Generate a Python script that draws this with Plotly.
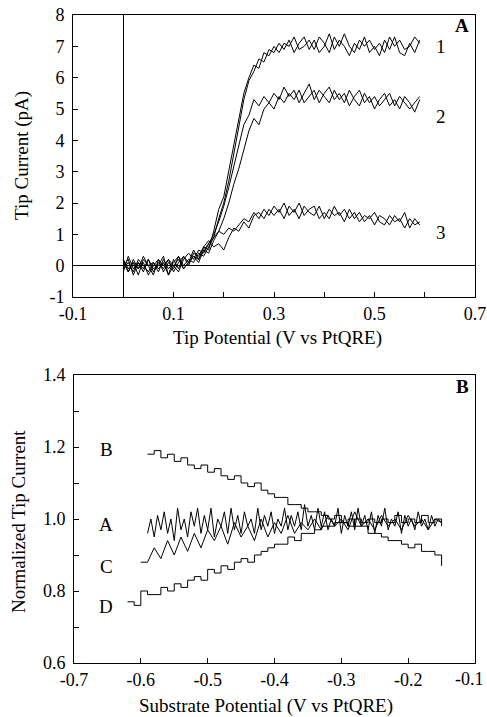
import numpy as np
import plotly.graph_objects as go

# ---------------- Panel A data ----------------
tip_potential = [round(0.01 * i, 2) for i in range(60)]  # 0.00 .. 0.59 V sampling grid

curve1_fwd = [0.1, -0.2, 0.2, -0.1, 0.1, -0.3, 0.0, 0.2, -0.2, 0.1,
              -0.1, 0.3, 0.0, 0.2, 0.1, 0.4, 0.3, 0.6, 0.9, 1.5,
              2.0, 2.7, 3.6, 4.4, 5.3, 5.9, 6.2, 6.6, 6.5, 6.9,
              6.8, 7.1, 6.9, 7.2, 6.8, 7.1, 7.3, 6.9, 7.2, 6.8,
              7.0, 7.4, 6.9, 7.2, 7.0, 6.7, 7.1, 6.9, 7.3, 6.8,
              7.0, 6.7, 7.2, 6.9, 7.3, 6.8, 6.7, 7.1, 6.8, 7.2]
curve1_rev = [-0.2, 0.3, -0.1, 0.1, -0.2, 0.2, -0.1, 0.0, 0.3, -0.3,
              0.2, -0.1, 0.3, 0.1, 0.5, 0.2, 0.6, 0.5, 1.1, 1.8,
              2.2, 3.0, 3.9, 4.7, 5.5, 6.0, 6.4, 6.3, 6.8, 6.7,
              7.0, 6.8, 7.1, 7.0, 7.3, 6.9, 7.0, 7.2, 6.9, 7.3,
              7.1, 6.8, 7.3, 7.0, 7.4, 7.0, 6.8, 7.2, 7.0, 7.2,
              6.9, 7.1, 6.8, 7.3, 7.0, 7.2, 6.9, 7.0, 7.3, 7.1]
curve2_fwd = [0.0, 0.2, -0.3, 0.1, -0.1, 0.2, -0.2, 0.1, -0.1, 0.2,
              0.0, -0.2, 0.2, 0.4, 0.2, 0.5, 0.4, 0.7, 1.0, 1.4,
              1.9, 2.5, 3.2, 3.8, 4.5, 4.8, 5.3, 5.1, 5.4, 5.2,
              5.5, 5.3, 5.7, 5.4, 5.6, 5.2, 5.5, 5.8, 5.3, 5.6,
              5.4, 5.2, 5.6, 5.3, 5.5, 5.1, 5.4, 5.6, 5.2, 5.4,
              5.0, 5.3, 5.5, 5.1, 5.3, 5.0, 5.4, 5.2, 4.9, 5.3]
curve2_rev = [0.2, -0.1, 0.1, -0.3, 0.2, 0.0, 0.1, -0.2, 0.2, -0.1,
              0.1, 0.3, -0.1, 0.1, 0.3, 0.1, 0.5, 0.4, 0.8, 1.1,
              1.5, 2.0, 2.6, 3.1, 3.7, 4.3, 4.7, 4.5, 5.0, 5.2,
              5.0, 5.4, 5.2, 5.5, 5.3, 5.6, 5.2, 5.4, 5.6, 5.2,
              5.5, 5.7, 5.3, 5.5, 5.2, 5.6, 5.3, 5.1, 5.5, 5.2,
              5.4, 5.1, 5.3, 5.5, 5.1, 5.4, 5.2, 5.0, 5.2, 5.4]
curve3_fwd = [-0.1, 0.1, -0.2, 0.2, 0.0, -0.2, 0.1, -0.1, 0.1, -0.3,
              0.0, 0.2, -0.1, 0.1, 0.3, 0.2, 0.5, 0.7, 0.9, 1.1,
              1.0, 1.2, 1.1, 1.3, 1.5, 1.4, 1.7, 1.5, 1.8, 1.6,
              1.9, 1.7, 2.0, 1.6, 1.8, 1.5, 1.9, 1.7, 1.6, 1.9,
              1.5, 1.8, 1.6, 1.7, 1.4, 1.8, 1.5, 1.7, 1.4, 1.6,
              1.3, 1.6, 1.5, 1.3, 1.6, 1.4, 1.7, 1.2, 1.5, 1.3]
curve3_rev = [0.2, -0.2, 0.1, -0.1, 0.3, 0.0, -0.3, 0.2, 0.0, 0.2,
              -0.2, 0.1, 0.3, 0.0, 0.4, 0.3, 0.6, 0.8, 0.6, 0.7,
              0.5, 0.9, 1.2, 1.1, 1.4, 1.2, 1.6, 1.7, 1.5, 1.8,
              1.6, 1.8, 1.5, 1.9, 1.7, 2.0, 1.6, 1.8, 1.9, 1.5,
              1.7, 1.5, 1.9, 1.6, 1.8, 1.5, 1.7, 1.4, 1.6, 1.5,
              1.7, 1.4, 1.3, 1.6, 1.4, 1.5, 1.2, 1.5, 1.3, 1.4]

curve_labels_A = ["1", "2", "3"]
curve_label_pos_A = [7.0, 4.75, 1.07]

# ---------------- Panel B data ----------------
B_start, B_step = -0.59, 0.01
norm_B = [1.18, 1.19, 1.17, 1.18, 1.16, 1.17, 1.15, 1.14, 1.15, 1.13,
          1.14, 1.12, 1.11, 1.12, 1.10, 1.09, 1.10, 1.08, 1.07, 1.06,
          1.06, 1.04, 1.04, 1.03, 1.02, 1.02, 1.01, 1.00, 1.01, 0.99,
          1.00, 0.98, 0.98, 0.96, 0.96, 0.95, 0.94, 0.94, 0.93, 0.92,
          0.93, 0.91, 0.91, 0.90, 0.87]
A_start, A_step = -0.59, 0.005
norm_A = [0.96, 1.00, 0.95, 1.01, 0.97, 1.02, 0.96, 1.00, 0.94, 1.03,
          0.97, 1.00, 0.95, 1.02, 0.98, 1.03, 0.96, 1.01, 0.97, 1.03,
          0.95, 1.00, 0.98, 1.02, 0.96, 1.03, 0.97, 1.01, 0.96, 1.02,
          0.98, 1.00, 0.96, 1.03, 0.97, 1.01, 0.98, 1.02, 0.96, 1.00,
          0.98, 1.03, 0.97, 1.01, 0.98, 1.02, 0.97, 1.04, 0.98, 1.01,
          0.97, 1.03, 0.98, 1.02, 0.97, 1.00, 0.98, 1.03, 0.96, 1.01,
          0.98, 1.02, 0.97, 1.03, 0.98, 1.01, 0.97, 1.02, 0.96, 1.01,
          0.98, 1.03, 0.97, 1.00, 0.98, 1.02, 0.96, 1.01, 0.98, 1.00,
          0.97, 1.02, 0.98, 1.00, 0.97, 1.01, 0.98, 1.00, 0.99]
C_start, C_step = -0.60, 0.01
norm_C = [0.88, 0.88, 0.92, 0.89, 0.94, 0.90, 0.95, 0.91, 0.96, 0.92,
          0.97, 0.94, 0.98, 0.93, 0.99, 0.95, 0.98, 0.94, 1.00, 0.95,
          0.99, 0.96, 1.01, 0.96, 0.99, 0.97, 1.00, 0.97, 1.01, 0.98,
          1.00, 0.97, 1.02, 0.98, 1.00, 0.97, 1.01, 0.98, 1.00, 0.97,
          1.01, 0.98, 1.00, 0.97, 1.00, 0.99]
D_start, D_step = -0.62, 0.01
norm_D = [0.77, 0.76, 0.80, 0.79, 0.79, 0.81, 0.80, 0.82, 0.81, 0.83,
          0.84, 0.83, 0.86, 0.85, 0.87, 0.86, 0.88, 0.89, 0.88, 0.90,
          0.91, 0.92, 0.93, 0.93, 0.95, 0.94, 0.96, 0.96, 0.97, 0.98,
          0.98, 0.99, 0.99, 0.98, 1.00, 0.99, 1.00, 0.99, 1.00, 0.99,
          1.01, 0.99, 1.00, 0.99, 1.01, 0.99, 1.00, 0.98]

curve_labels_B = ["B", "A", "C", "D"]
curve_label_pos_B = [1.194, 0.986, 0.867, 0.756]


def grid(start, step, n):
    return [round(start + step * i, 4) for i in range(n)]


FONT = "Liberation Serif, Times New Roman, serif"
W, H = 487, 717

fig = go.Figure()
line = dict(color="black", width=1)

for ys in [curve1_fwd, curve1_rev, curve2_fwd, curve2_rev, curve3_fwd, curve3_rev]:
    fig.add_trace(go.Scatter(x=tip_potential, y=ys, mode="lines", line=line,
                             xaxis="x", yaxis="y", showlegend=False))

fig.add_trace(go.Scatter(x=grid(B_start, B_step, len(norm_B)), y=norm_B, mode="lines",
                         line=dict(color="black", width=1, shape="hv"),
                         xaxis="x2", yaxis="y2", showlegend=False))
fig.add_trace(go.Scatter(x=grid(A_start, A_step, len(norm_A)), y=norm_A, mode="lines",
                         line=line, xaxis="x2", yaxis="y2", showlegend=False))
fig.add_trace(go.Scatter(x=grid(C_start, C_step, len(norm_C)), y=norm_C, mode="lines",
                         line=line, xaxis="x2", yaxis="y2", showlegend=False))
fig.add_trace(go.Scatter(x=grid(D_start, D_step, len(norm_D)), y=norm_D, mode="lines",
                         line=dict(color="black", width=1, shape="hv"),
                         xaxis="x2", yaxis="y2", showlegend=False))

tickfont = dict(family=FONT, size=18, color="black")
common = dict(showline=True, linecolor="black", linewidth=1, mirror=True,
              ticks="inside", ticklen=5, tickwidth=1, tickcolor="black",
              showgrid=False, tickfont=tickfont, automargin=False,
              ticklabeloverflow="allow")

xa_vals = [-0.1, 0.0, 0.1, 0.2, 0.3, 0.4, 0.5, 0.6, 0.7]
xa_text = ["-0.1", "", "0.1", "", "0.3", "", "0.5", "", "0.7"]
ya_vals = [-1, 0, 1, 2, 3, 4, 5, 6, 7, 8]
xb_vals = [-0.7, -0.6, -0.5, -0.4, -0.3, -0.2, -0.1]
xb_text = ["-0.7", "-0.6", "-0.5", "-0.4", "-0.3", "-0.2", ""]
xb_last_label = "-0.1"   # drawn right-aligned at the figure edge
yb_vals = [0.6, 0.7, 0.8, 0.9, 1.0, 1.1, 1.2, 1.3, 1.4]
yb_text = ["0.6", "", "0.8", "", "1.0", "", "1.2", "", "1.4"]

fig.update_layout(
    template="none",
    width=W, height=H, margin=dict(l=0, r=0, t=0, b=0, autoexpand=False),
    paper_bgcolor="white", plot_bgcolor="white",
    font=dict(family=FONT, color="black"),
    xaxis=dict(domain=[73 / W, 475 / W], range=[-0.1, 0.7], anchor="y",
               tickmode="array", tickvals=xa_vals, ticktext=xa_text,
               zeroline=True, zerolinecolor="black", zerolinewidth=1, **common),
    yaxis=dict(domain=[1 - 297 / H, 1 - 15 / H], range=[-1, 8], anchor="x",
               tickmode="array", tickvals=ya_vals, ticktext=[str(v) for v in ya_vals],
               zeroline=True, zerolinecolor="black", zerolinewidth=1,
               ticklabelstandoff=4, **common),
    xaxis2=dict(domain=[74 / W, 475 / W], range=[-0.7, -0.1], anchor="y2",
                tickmode="array", tickvals=xb_vals, ticktext=xb_text,
                zeroline=False, **common),
    yaxis2=dict(domain=[1 - 663 / H, 1 - 375 / H], range=[0.6, 1.4], anchor="x2",
                tickmode="array", tickvals=yb_vals, ticktext=yb_text,
                zeroline=False, ticklabelstandoff=4, **common),
)

titlefont = dict(family=FONT, size=19, color="black")
ann = []
ann.append(dict(text="Tip Potential (V vs PtQRE)", x=277 / W, y=1 - 338 / H, xref="paper", yref="paper",
                showarrow=False, font=titlefont, xanchor="center", yanchor="middle"))
ann.append(dict(text="Tip Current (pA)", x=22 / W, y=1 - 156 / H, xref="paper", yref="paper",
                showarrow=False, font=titlefont, textangle=-90, xanchor="center", yanchor="middle"))
ann.append(dict(text="Substrate Potential (V vs PtQRE)", x=266 / W, y=1 - 706 / H, xref="paper", yref="paper",
                showarrow=False, font=titlefont, xanchor="center", yanchor="middle"))
ann.append(dict(text="Normalized Tip Current", x=18 / W, y=1 - 522 / H, xref="paper", yref="paper",
                showarrow=False, font=titlefont, textangle=-90, xanchor="center", yanchor="middle"))
ann.append(dict(text=xb_last_label, x=485 / W, y=1 - 679 / H, xref="paper", yref="paper",
                showarrow=False, font=tickfont, xanchor="right", yanchor="middle",
                borderpad=0))
ann.append(dict(text="<b>A</b>", x=0.674, y=7.68, xref="x", yref="y", showarrow=False,
                font=titlefont, xanchor="center", yanchor="middle"))
ann.append(dict(text="<b>B</b>", x=-0.119, y=1.367, xref="x2", yref="y2", showarrow=False,
                font=titlefont, xanchor="center", yanchor="middle"))
for lab, yv in zip(curve_labels_A, curve_label_pos_A):
    ann.append(dict(text=lab, x=0.632, y=yv, xref="x", yref="y", showarrow=False,
                    font=titlefont, xanchor="center", yanchor="middle"))
for lab, yv in zip(curve_labels_B, curve_label_pos_B):
    ann.append(dict(text=lab, x=-0.652, y=yv, xref="x2", yref="y2", showarrow=False,
                    font=titlefont, xanchor="center", yanchor="middle"))
fig.update_layout(annotations=ann)

fig.write_html("out.html", config={"displayModeBar": False},
               post_script="document.body.style.margin='0px';document.body.style.overflow='hidden';")
